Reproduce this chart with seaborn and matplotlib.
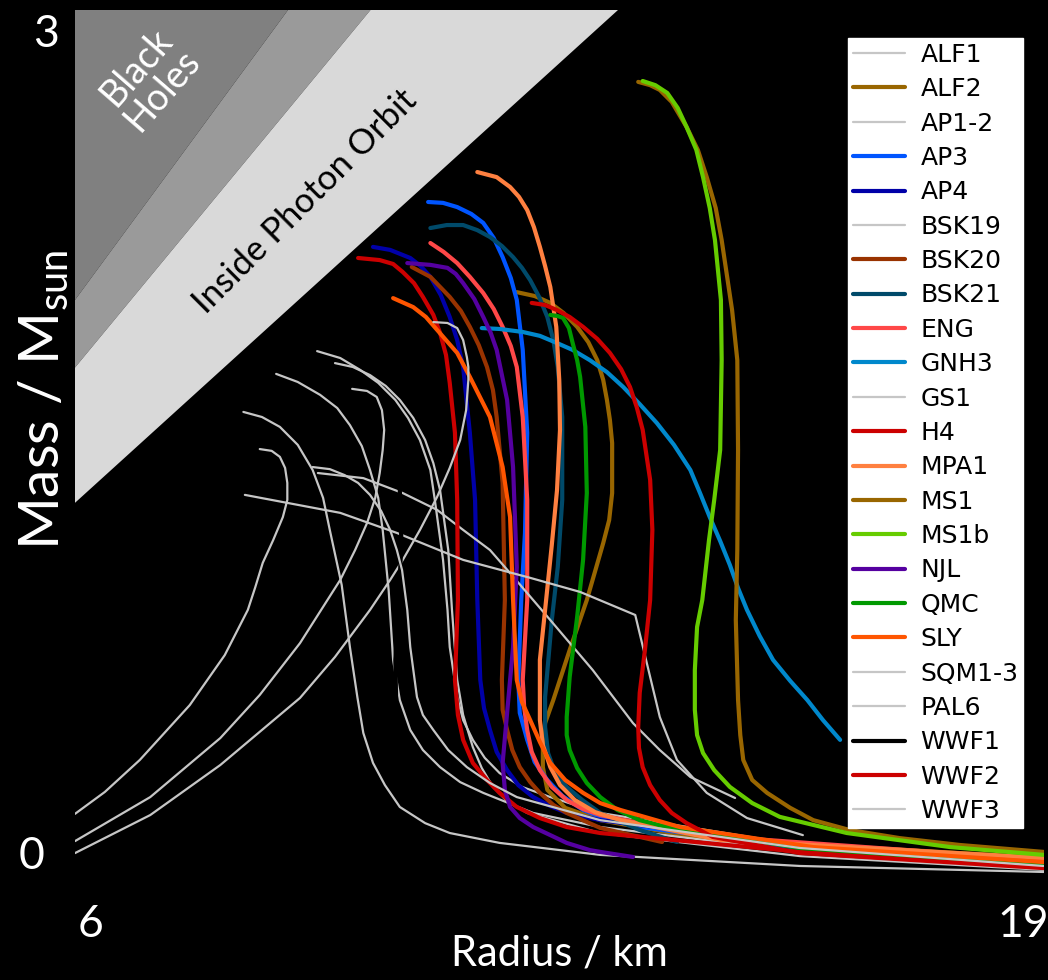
import matplotlib
matplotlib.use("Agg")
import matplotlib.pyplot as plt
import seaborn as sns
from matplotlib.transforms import ScaledTranslation

sns.set_style("dark", rc={"axes.facecolor": "black", "figure.facecolor": "black"})
plt.rcParams["font.family"] = ["Lato", "DejaVu Sans"]

# ---------------------------------------------------------------------------
# Mass-radius curves (radius in km, mass in solar masses)
# ---------------------------------------------------------------------------
ALF1_R = [9.25, 9.56, 9.83, 10.07, 10.30, 10.47, 10.63, 10.77, 10.83, 10.94, 11.00, 11.03, 11.13, 11.21, 11.34, 11.50, 11.70, 12.00, 12.38, 13.05, 15.73, 19.0]
ALF1_M = [1.861, 1.838, 1.798, 1.755, 1.698, 1.638, 1.564, 1.464, 1.364, 1.164, 0.997, 0.873, 0.706, 0.629, 0.563, 0.503, 0.452, 0.406, 0.372, 0.319, 0.212, 0.149]

ALF2_R = [11.93, 12.17, 12.38, 12.56, 12.74, 12.89, 13.01, 13.09, 13.14, 13.18, 13.21, 13.21, 13.17, 13.09, 12.87, 12.64, 12.42, 12.31, 12.28, 12.28, 12.34, 12.58, 13.05, 14.39, 19.0]
ALF2_M = [2.058, 2.045, 2.022, 1.988, 1.942, 1.891, 1.831, 1.765, 1.698, 1.631, 1.554, 1.387, 1.297, 1.220, 1.030, 0.863, 0.696, 0.619, 0.546, 0.472, 0.396, 0.336, 0.295, 0.235, 0.169]

AP1_R = [8.26, 8.51, 8.75, 8.99, 9.19, 9.33, 9.42, 9.58, 9.69, 9.79, 9.87, 10.00, 10.16, 10.36, 10.70, 11.03, 11.70, 13.05, 15.73, 19.0]
AP1_M = [1.658, 1.641, 1.608, 1.548, 1.464, 1.371, 1.264, 1.080, 0.873, 0.706, 0.586, 0.486, 0.412, 0.339, 0.285, 0.252, 0.219, 0.179, 0.142, 0.122]
AP2_R = [8.70, 8.99, 9.29, 9.52, 9.69, 9.85, 9.96, 10.07, 10.13, 10.21, 10.27, 10.36, 10.50, 10.67, 10.90, 11.17, 11.48, 12.15, 13.05, 15.73, 19.0]
AP2_M = [1.785, 1.758, 1.715, 1.671, 1.614, 1.544, 1.464, 1.371, 1.264, 1.063, 0.830, 0.696, 0.596, 0.529, 0.472, 0.422, 0.386, 0.319, 0.272, 0.189, 0.135]

AP3_R = [10.74, 10.94, 11.13, 11.32, 11.48, 11.62, 11.74, 11.85, 11.93, 12.01, 12.07, 12.04, 11.99, 11.95, 11.97, 12.07, 12.17, 12.34, 12.54, 12.82, 13.18, 13.58, 15.73, 19.0]
AP3_M = [2.359, 2.356, 2.342, 2.319, 2.289, 2.239, 2.175, 2.105, 2.032, 1.865, 1.588, 1.254, 1.030, 0.763, 0.653, 0.563, 0.489, 0.429, 0.376, 0.329, 0.295, 0.272, 0.202, 0.159]

AP4_R = [10.00, 10.23, 10.50, 10.64, 10.77, 10.91, 11.03, 11.13, 11.21, 11.30, 11.37, 11.40, 11.44, 11.49, 11.57, 11.66, 11.80, 11.95, 12.15, 12.38, 12.60, 13.05, 15.73, 19.0]
AP4_M = [2.209, 2.199, 2.172, 2.145, 2.109, 2.048, 1.975, 1.898, 1.808, 1.588, 1.364, 1.030, 0.763, 0.669, 0.596, 0.523, 0.462, 0.412, 0.372, 0.342, 0.319, 0.295, 0.212, 0.152]

BSK19_R = [9.49, 9.73, 9.96, 10.17, 10.36, 10.54, 10.70, 10.81, 10.90, 11.01, 11.06, 11.13, 11.21, 11.34, 11.46, 11.61, 11.81, 12.07, 13.05, 15.73, 19.0]
BSK19_M = [1.821, 1.808, 1.781, 1.745, 1.698, 1.638, 1.564, 1.487, 1.397, 1.197, 0.997, 0.763, 0.646, 0.539, 0.469, 0.406, 0.356, 0.319, 0.252, 0.175, 0.129]

BSK20_R = [10.52, 10.77, 11.03, 11.18, 11.30, 11.42, 11.53, 11.61, 11.66, 11.74, 11.77, 11.73, 11.74, 11.80, 11.87, 11.97, 12.11, 12.24, 12.42, 12.60, 13.05, 13.88]
BSK20_M = [2.142, 2.109, 2.042, 1.995, 1.942, 1.881, 1.808, 1.731, 1.641, 1.421, 1.030, 0.763, 0.663, 0.596, 0.529, 0.472, 0.422, 0.386, 0.346, 0.319, 0.269, 0.222]

BSK21_R = [10.77, 10.99, 11.21, 11.40, 11.57, 11.73, 11.88, 12.00, 12.11, 12.23, 12.34, 12.42, 12.48, 12.54, 12.54, 12.48, 12.40, 12.31, 12.31, 12.35, 12.44, 12.60, 12.81, 13.05, 13.58, 14.08]
BSK21_M = [2.272, 2.282, 2.282, 2.265, 2.242, 2.212, 2.175, 2.139, 2.098, 2.042, 1.975, 1.898, 1.808, 1.641, 1.364, 1.140, 0.963, 0.706, 0.606, 0.519, 0.456, 0.406, 0.362, 0.319, 0.262, 0.222]

ENG_R = [10.77, 10.95, 11.13, 11.30, 11.48, 11.62, 11.74, 11.85, 11.93, 12.01, 12.07, 12.07, 12.01, 12.03, 12.07, 12.13, 12.24, 12.40, 12.60, 12.82, 13.05, 14.39, 19.0]
ENG_M = [2.222, 2.192, 2.155, 2.109, 2.055, 2.002, 1.942, 1.878, 1.808, 1.641, 1.364, 1.030, 0.763, 0.669, 0.596, 0.523, 0.462, 0.406, 0.362, 0.332, 0.312, 0.245, 0.162]

GNH3_R = [11.46, 11.70, 12.01, 12.24, 12.47, 12.68, 12.91, 13.14, 13.36, 13.58, 13.81, 14.04, 14.26, 14.39, 14.52, 14.66, 14.79, 14.90, 15.02, 15.19, 15.37, 15.60, 15.83, 16.04, 16.27]
GNH3_M = [1.938, 1.935, 1.925, 1.912, 1.888, 1.865, 1.831, 1.791, 1.741, 1.684, 1.621, 1.548, 1.464, 1.387, 1.307, 1.227, 1.147, 1.070, 0.997, 0.910, 0.830, 0.760, 0.696, 0.629, 0.563]

GS1_R = [9.26, 9.87, 10.40, 10.86, 11.21, 11.57, 11.84, 12.38, 12.95, 13.49, 13.85, 14.26, 14.86]
GS1_M = [1.454, 1.437, 1.387, 1.331, 1.264, 1.197, 1.120, 0.963, 0.796, 0.619, 0.529, 0.439, 0.369]

H4_R = [9.80, 10.09, 10.27, 10.40, 10.55, 10.67, 10.81, 10.90, 10.98, 11.03, 11.10, 11.13, 11.14, 11.10, 11.14, 11.21, 11.34, 11.53, 11.70, 11.93, 12.24, 12.60, 13.05, 15.73, 19.0]
H4_M = [2.172, 2.165, 2.152, 2.125, 2.088, 2.042, 1.982, 1.922, 1.848, 1.755, 1.588, 1.364, 1.030, 0.763, 0.646, 0.563, 0.486, 0.429, 0.386, 0.339, 0.302, 0.272, 0.252, 0.189, 0.139]

MPA1_R = [11.40, 11.66, 11.84, 11.96, 12.07, 12.16, 12.24, 12.31, 12.38, 12.46, 12.50, 12.51, 12.47, 12.40, 12.31, 12.24, 12.24, 12.28, 12.38, 12.51, 12.71, 12.98, 13.32, 14.66, 19.0]
MPA1_M = [2.459, 2.442, 2.409, 2.376, 2.332, 2.275, 2.209, 2.145, 2.075, 1.942, 1.765, 1.598, 1.397, 1.214, 0.997, 0.830, 0.629, 0.546, 0.472, 0.412, 0.362, 0.322, 0.295, 0.229, 0.169]

MS1_R = [13.56, 13.72, 13.85, 14.01, 14.21, 14.36, 14.48, 14.60, 14.68, 14.82, 14.89, 14.90, 14.89, 14.87, 14.90, 14.93, 14.97, 15.09, 15.29, 15.60, 15.91, 16.40, 17.07, 17.88, 19.0]
MS1_M = [2.760, 2.749, 2.733, 2.693, 2.609, 2.533, 2.442, 2.339, 2.232, 1.998, 1.831, 1.531, 1.197, 0.963, 0.696, 0.579, 0.496, 0.429, 0.386, 0.336, 0.295, 0.262, 0.235, 0.212, 0.189]

MS1B_R = [13.62, 13.79, 13.95, 14.09, 14.21, 14.34, 14.43, 14.52, 14.59, 14.67, 14.68, 14.66, 14.58, 14.51, 14.42, 14.35, 14.32, 14.32, 14.35, 14.43, 14.58, 14.79, 15.09, 15.46, 16.36, 17.75, 19.0]
MS1B_M = [2.763, 2.749, 2.723, 2.673, 2.609, 2.533, 2.442, 2.339, 2.232, 2.032, 1.831, 1.531, 1.364, 1.230, 1.030, 0.940, 0.796, 0.663, 0.579, 0.519, 0.462, 0.406, 0.352, 0.306, 0.252, 0.205, 0.179]

NJL_R = [10.46, 10.77, 11.00, 11.11, 11.21, 11.36, 11.48, 11.58, 11.66, 11.80, 11.88, 11.93, 11.88, 11.80, 11.74, 11.77, 11.84, 11.97, 12.15, 12.38, 12.60, 12.91, 13.05, 13.49]
NJL_M = [2.155, 2.149, 2.139, 2.119, 2.088, 2.035, 1.975, 1.922, 1.865, 1.698, 1.474, 1.140, 0.873, 0.653, 0.486, 0.396, 0.339, 0.302, 0.272, 0.245, 0.219, 0.195, 0.189, 0.172]

QMC_R = [12.38, 12.48, 12.55, 12.63, 12.68, 12.74, 12.78, 12.85, 12.87, 12.82, 12.74, 12.64, 12.60, 12.60, 12.64, 12.74, 12.87, 13.05, 13.28, 13.58, 13.95, 15.73, 19.0]
QMC_M = [1.982, 1.978, 1.972, 1.938, 1.888, 1.831, 1.775, 1.608, 1.387, 1.164, 0.973, 0.773, 0.639, 0.579, 0.529, 0.469, 0.419, 0.372, 0.329, 0.295, 0.272, 0.202, 0.145]

SLY_R = [10.27, 10.54, 10.71, 10.86, 11.13, 11.30, 11.57, 11.74, 11.84, 11.88, 11.93, 12.00, 12.11, 12.24, 12.38, 12.58, 12.82, 13.05, 13.32, 14.12, 15.91, 19.0]
SLY_M = [2.038, 2.008, 1.975, 1.932, 1.855, 1.775, 1.641, 1.474, 1.307, 1.030, 0.763, 0.689, 0.629, 0.556, 0.486, 0.429, 0.386, 0.352, 0.329, 0.272, 0.205, 0.155]

SQM1_R = [6.00, 6.40, 6.87, 7.54, 8.01, 8.32, 8.42, 8.52, 8.66, 8.79, 8.85, 8.85, 8.82, 8.75, 8.64, 8.48]
SQM1_M = [0.316, 0.389, 0.496, 0.679, 0.846, 0.997, 1.073, 1.154, 1.230, 1.307, 1.364, 1.421, 1.471, 1.508, 1.528, 1.534]
SQM2_R = [6.00, 7.01, 7.95, 8.48, 9.02, 9.56, 9.76, 9.92, 10.03, 10.09, 10.13, 10.15, 10.12, 10.05, 9.92, 9.72]
SQM2_M = [0.225, 0.372, 0.569, 0.713, 0.886, 1.097, 1.197, 1.287, 1.371, 1.454, 1.531, 1.598, 1.664, 1.708, 1.728, 1.735]
SQM3_R = [6.00, 7.01, 7.95, 9.02, 9.49, 9.96, 10.23, 10.40, 10.63, 10.86, 11.03, 11.17, 11.25, 11.28, 11.28, 11.26, 11.21, 11.13, 11.00, 10.81]
SQM3_M = [0.185, 0.312, 0.479, 0.703, 0.840, 0.997, 1.097, 1.164, 1.264, 1.374, 1.471, 1.564, 1.664, 1.765, 1.808, 1.841, 1.898, 1.938, 1.955, 1.958]

PAL6_R = [8.28, 9.56, 10.32, 11.21, 12.11, 12.78, 13.52, 13.85, 14.08, 14.48, 15.02, 15.77]
PAL6_M = [1.381, 1.321, 1.254, 1.164, 1.104, 1.057, 0.980, 0.639, 0.496, 0.386, 0.302, 0.245]

WWF1_R = [10.16, 10.34, 10.36, 10.38, 10.35, 10.30, 10.31]
WWF1_M = [1.698, 1.531, 1.397, 1.230, 1.030, 0.830, 0.696]

WWF2_R = [12.13, 12.31, 12.47, 12.64, 12.82, 13.01, 13.18, 13.33, 13.45, 13.54, 13.62, 13.72, 13.75, 13.72, 13.65, 13.58, 13.56, 13.57, 13.62, 13.72, 13.85, 14.01, 14.21, 14.56, 15.73, 19.0]
WWF2_M = [2.022, 2.015, 1.998, 1.975, 1.942, 1.902, 1.855, 1.801, 1.741, 1.674, 1.598, 1.431, 1.264, 1.030, 0.863, 0.720, 0.606, 0.536, 0.472, 0.412, 0.362, 0.319, 0.285, 0.239, 0.185, 0.135]

WWF3_R = [9.19, 9.42, 9.62, 9.80, 9.96, 10.11, 10.23, 10.32, 10.39, 10.46, 10.50, 10.59, 10.67, 10.81, 11.01, 11.26, 11.57, 11.93, 13.05, 15.73, 19.0]
WWF3_M = [1.474, 1.467, 1.447, 1.421, 1.381, 1.327, 1.264, 1.197, 1.130, 0.997, 0.873, 0.706, 0.646, 0.596, 0.529, 0.472, 0.419, 0.372, 0.295, 0.202, 0.142]

GREY = "#c6c6c6"
THIN, THICK = 1.6, 3.0

# name, colour, width, list of (radius, mass) curves
SERIES = [
    ("ALF1", GREY, THIN, [(ALF1_R, ALF1_M)]),
    ("ALF2", "#996600", THICK, [(ALF2_R, ALF2_M)]),
    ("AP1-2", GREY, THIN, [(AP1_R, AP1_M), (AP2_R, AP2_M)]),
    ("AP3", "#0055ff", THICK, [(AP3_R, AP3_M)]),
    ("AP4", "#0000a8", THICK, [(AP4_R, AP4_M)]),
    ("BSK19", GREY, THIN, [(BSK19_R, BSK19_M)]),
    ("BSK20", "#993300", THICK, [(BSK20_R, BSK20_M)]),
    ("BSK21", "#004a6a", THICK, [(BSK21_R, BSK21_M)]),
    ("ENG", "#ff4848", THICK, [(ENG_R, ENG_M)]),
    ("GNH3", "#0088cc", THICK, [(GNH3_R, GNH3_M)]),
    ("GS1", GREY, THIN, [(GS1_R, GS1_M)]),
    ("H4", "#cc0000", THICK, [(H4_R, H4_M)]),
    ("MPA1", "#ff8040", THICK, [(MPA1_R, MPA1_M)]),
    ("MS1", "#996600", THICK, [(MS1_R, MS1_M)]),
    ("MS1b", "#66cc00", THICK, [(MS1B_R, MS1B_M)]),
    ("NJL", "#5500a0", THICK, [(NJL_R, NJL_M)]),
    ("QMC", "#009900", THICK, [(QMC_R, QMC_M)]),
    ("SLY", "#ff5500", THICK, [(SLY_R, SLY_M)]),
    ("SQM1-3", GREY, THIN, [(SQM1_R, SQM1_M), (SQM2_R, SQM2_M), (SQM3_R, SQM3_M)]),
    ("PAL6", GREY, THIN, [(PAL6_R, PAL6_M)]),
    ("WWF1", "#000000", THICK, [(WWF1_R, WWF1_M)]),
    ("WWF2", "#cc0000", THICK, [(WWF2_R, WWF2_M)]),
    ("WWF3", GREY, THIN, [(WWF3_R, WWF3_M)]),
]

# Compactness limits: R = k * R_s(M), R_s = 2.953 km per solar mass
RS_PER_MSUN = 2.953
LIMITS = [1.0, 1.125, 1.5]          # horizon, intermediate band, photon orbit
BAND_COLOURS = ["#808080", "#9a9a9a", "#d9d9d9"]
R_MIN, R_MAX, M_MIN, M_MAX = 6, 19, 0, 3

fig = plt.figure(figsize=(10.48, 9.8), dpi=100)
ax = fig.add_axes([75 / 1048, (980 - 908.5) / 980, (1043.5 - 75) / 1048, (908.5 - 10) / 980])
ax.set_facecolor("black")

# Shaded forbidden regions
prev = None
for k, col in zip(LIMITS, BAND_COLOURS):
    s = k * RS_PER_MSUN
    if prev is None:
        xs = [R_MIN, R_MIN, s * M_MAX]
        ys = [R_MIN / s, M_MAX, M_MAX]
    else:
        xs = [R_MIN, R_MIN, prev * M_MAX, s * M_MAX]
        ys = [R_MIN / s, R_MIN / prev, M_MAX, M_MAX]
    ax.fill(xs, ys, color=col, lw=0, zorder=1)
    prev = s

ax.text(7.0, 2.77, "Black\nHoles", color="white", fontsize=27, rotation=49,
        ha="center", va="center", linespacing=0.95, zorder=2)
ax.text(9.09, 2.36, "Inside Photon Orbit", color="black", fontsize=25, rotation=45,
        ha="center", va="center", zorder=2)

for name, col, lw, curves in SERIES:
    for i, (r, m) in enumerate(curves):
        sns.lineplot(x=r, y=m, sort=False, estimator=None, color=col, linewidth=lw,
                     label=name if i == 0 else "_nolegend_", ax=ax, zorder=3)

ax.set_xlim(R_MIN, R_MAX)
ax.set_ylim(M_MIN, M_MAX)
for sp in ax.spines.values():
    sp.set_visible(False)
ax.grid(False)

ax.set_xticks([R_MIN, R_MAX])
ax.set_yticks([M_MIN, M_MAX])
ax.tick_params(length=0, colors="white", labelsize=32, pad=0)
ax.set_xticklabels(["6", "19"])
ax.set_yticklabels(["0", "3"])


def shift(label, dx, dy):
    label.set_transform(label.get_transform() + ScaledTranslation(dx / 100, dy / 100, fig.dpi_scale_trans))


xl = ax.get_xticklabels()
shift(xl[0], 15, 5)
shift(xl[1], -20, 5)
yl = ax.get_yticklabels()
shift(yl[0], -31, 56)
shift(yl[1], -16, -20)

ax.set_xlabel("Radius / km", color="white", fontsize=30, labelpad=-7)
ax.set_ylabel("Mass / M$_{\\mathregular{sun}}$", color="white", fontsize=41)
ax.yaxis.set_label_coords(-0.004, 0.566)

leg = ax.legend(loc="upper left", bbox_to_anchor=(0.798, 0.969), borderaxespad=0,
                frameon=True, fancybox=False, facecolor="white", edgecolor="white",
                framealpha=1, prop={"family": "DejaVu Sans", "size": 18},
                handlelength=2.1, handletextpad=0.6, labelspacing=0.415, borderpad=0.2)
for t in leg.get_texts():
    t.set_color("black")

fig.savefig("out.png", dpi=100, facecolor="black")
